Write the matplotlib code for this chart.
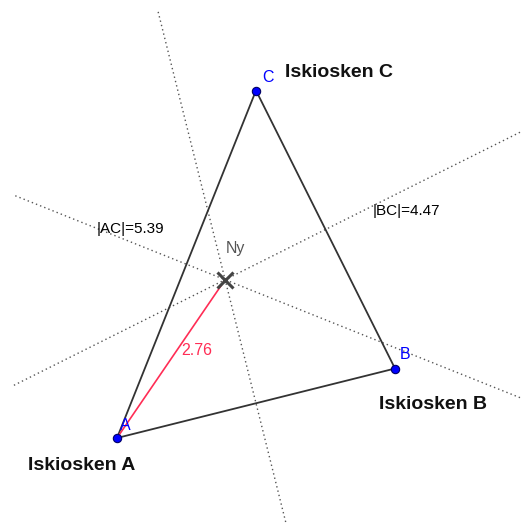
import numpy as np
import matplotlib.pyplot as plt

plt.rcParams['font.family'] = ['Liberation Sans', 'DejaVu Sans']

# hjørnene i trekanten (A, B, C)
names = ['A', 'B', 'C']
xs = [0.0, 4.0, 2.0]
ys = [0.0, 1.0, 5.0]
kiosk_labels = ['Iskiosken A', 'Iskiosken B', 'Iskiosken C']

P = np.array(list(zip(xs, ys)))
A, B, C = P

# omsenteret (like langt fra alle tre)
M = np.array([[2 * (B[0] - A[0]), 2 * (B[1] - A[1])],
              [2 * (C[0] - A[0]), 2 * (C[1] - A[1])]])
rhs = np.array([B @ B - A @ A, C @ C - A @ A])
ny = np.linalg.solve(M, rhs)

scale = 69.5          # px per enhet
ox, oy = 117, 438     # piksel for A
W, H = 525, 531


def to_data(px, py):
    return (px - ox) / scale, (oy - py) / scale


fig = plt.figure(figsize=(W / 100, H / 100), dpi=100)
ax = fig.add_axes([0, 0, 1, 1])
x0, y1 = to_data(0, 0)
x1, y0 = to_data(W, H)
ax.set_xlim(x0, x1)
ax.set_ylim(y0, y1)
ax.axis('off')

# synlig område for midtnormalene
bx0, by1 = to_data(13, 10)
bx1, by0 = to_data(520, 522)


def clip_line(p, d):
    ts = []
    for k, (lo, hi) in enumerate([(bx0, bx1), (by0, by1)]):
        if abs(d[k]) > 1e-12:
            ts.append(sorted([(lo - p[k]) / d[k], (hi - p[k]) / d[k]]))
    tmin = max(t[0] for t in ts)
    tmax = min(t[1] for t in ts)
    return p + tmin * d, p + tmax * d


# midtnormaler
for i, j in [(0, 1), (1, 2), (0, 2)]:
    mid = (P[i] + P[j]) / 2
    v = P[j] - P[i]
    d = np.array([-v[1], v[0]])
    s, e = clip_line(mid, d)
    ax.plot([s[0], e[0]], [s[1], e[1]], linestyle=(0, (1, 2.2)),
            color='#555555', lw=1.0, zorder=1)

# trekanten
tri = np.vstack([P, P[:1]])
ax.plot(tri[:, 0], tri[:, 1], color='#333333', lw=1.3, zorder=2)

# A til Ny
ax.plot([A[0], ny[0]], [A[1], ny[1]], color='#ff2d55', lw=1.2, zorder=3)
dist = np.hypot(*(ny - A))
mid = (A + ny) / 2
ax.annotate('%.2f' % dist, mid, xytext=(26, 8), textcoords='offset pixels',
            ha='center', va='center', color='#ff2d55', fontsize=11.5)

# lengder
ac = np.hypot(*(C - A))
bc = np.hypot(*(C - B))
ax.annotate('|AC|=%.2f' % ac, (A + C) / 2, xytext=(-90, 35), textcoords='offset pixels',
            ha='left', va='center', fontsize=11, color='black')
ax.annotate('|BC|=%.2f' % bc, (B + C) / 2, xytext=(47, 19), textcoords='offset pixels',
            ha='left', va='center', fontsize=11, color='black')

# punkter
ax.plot(xs, ys, 'o', color='#0000ff', markersize=6, markeredgecolor='#000066',
        markeredgewidth=0.8, zorder=5)

name_off = [(3, 13), (5, 14), (6, 13)]
kiosk_off = [(-89, -27), (-16, -36), (29, 18)]
for k in range(3):
    ax.annotate(names[k], P[k], xytext=name_off[k], textcoords='offset pixels',
                ha='left', va='center', color='#0000ff', fontsize=11.5)
    ax.annotate(kiosk_labels[k], P[k], xytext=kiosk_off[k], textcoords='offset pixels',
                ha='left', va='center', color='#111111', fontsize=14, fontweight='bold')

# Ny
ax.plot(ny[0], ny[1], 'x', color='#444444', markersize=11, markeredgewidth=2.2, zorder=6)
ax.annotate('Ny', ny, xytext=(1, 31), textcoords='offset pixels',
            ha='left', va='center', color='#555555', fontsize=11.5)

fig.savefig('out.png', dpi=100)
